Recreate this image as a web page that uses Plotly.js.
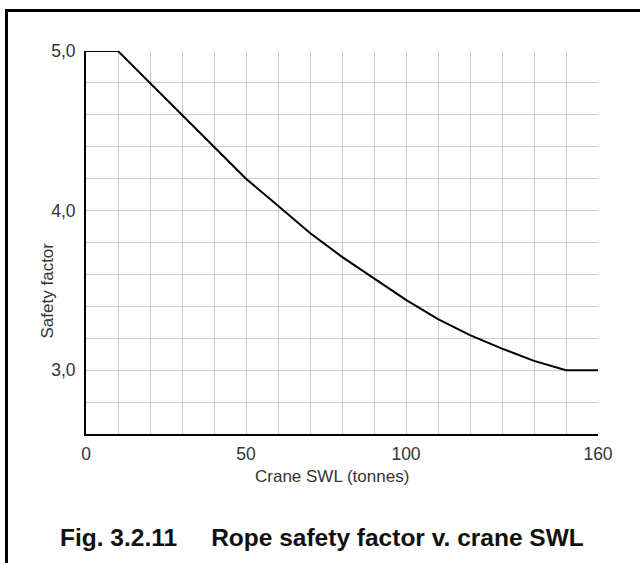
<!DOCTYPE html>
<html>
<head>
<meta charset="utf-8">
<script src="https://cdn.plot.ly/plotly-3.0.1.min.js"></script>
<style>
  html, body { margin: 0; padding: 0; background: #fff; }
  #frame { position: absolute; left: 5px; top: 9px; width: 700px; height: 700px;
           border-top: 3px solid #000; border-left: 3px solid #000; }
  #chart { position: absolute; left: 0; top: 0; width: 640px; height: 563px; }
</style>
</head>
<body>
<div id="frame"></div>
<div id="chart"></div>
<script>
// Data
const craneSWL = [0, 10, 20, 30, 40, 50, 60, 70, 80, 90, 100, 110, 120, 130, 140, 150, 160];
const safetyFactor = [5.0, 5.0, 4.8, 4.6, 4.4, 4.2, 4.03, 3.86, 3.71, 3.575, 3.44, 3.32, 3.22, 3.135, 3.058, 3.0, 3.0];

const xTickVals = [0, 50, 100, 160];
const xTickText = ['0', '50', '100', '160'];
const yTickVals = [3, 4, 5];
const yTickText = ['3,0', '4,0', '5,0'];

const xTitle = 'Crane SWL (tonnes)';
const yTitle = 'Safety factor';
const caption = 'Fig. 3.2.11&nbsp;&nbsp;&nbsp;&nbsp;&nbsp;Rope safety factor v. crane SWL';

const FONT = 'Liberation Sans, Arial, Helvetica, sans-serif';
const GRID = '#cccccc';

const trace = {
  x: craneSWL,
  y: safetyFactor,
  type: 'scatter',
  mode: 'lines',
  line: { color: '#000', width: 2 },
  hoverinfo: 'skip',
  cliponaxis: false
};

const layout = {
  width: 640,
  height: 563,
  margin: { l: 86, r: 42, t: 51, b: 129 },
  paper_bgcolor: 'rgba(0,0,0,0)',
  plot_bgcolor: 'rgba(0,0,0,0)',
  showlegend: false,
  font: { family: FONT, color: '#333', size: 17 },
  xaxis: {
    range: [0, 160],
    tickmode: 'array',
    tickvals: xTickVals,
    ticktext: xTickText,
    ticks: 'outside', ticklen: 3, tickcolor: 'rgba(0,0,0,0)',
    showgrid: true, gridcolor: GRID, gridwidth: 1,
    minor: { tickmode: 'linear', tick0: 0, dtick: 10, showgrid: true, gridcolor: GRID, gridwidth: 1 },
    showline: true, linecolor: '#000', linewidth: 2,
    zeroline: false,
    tickfont: { family: FONT, size: 17.5, color: '#333' },
    fixedrange: true
  },
  yaxis: {
    range: [2.6, 5.0],
    tickmode: 'array',
    tickvals: yTickVals,
    ticktext: yTickText,
    ticks: 'outside', ticklen: 5, tickcolor: 'rgba(0,0,0,0)',
    showgrid: true, gridcolor: GRID, gridwidth: 1,
    minor: { tickmode: 'linear', tick0: 0, dtick: 0.2, showgrid: true, gridcolor: GRID, gridwidth: 1 },
    showline: true, linecolor: '#000', linewidth: 2,
    zeroline: false,
    tickfont: { family: FONT, size: 17.5, color: '#333' },
    fixedrange: true
  },
  annotations: [
    {
      text: xTitle, xref: 'paper', yref: 'paper', x: 0.48, y: -0.112,
      xanchor: 'center', yanchor: 'middle', showarrow: false,
      font: { family: FONT, size: 17, color: '#333' }
    },
    {
      text: yTitle, xref: 'paper', yref: 'y', x: -0.076, y: 3.5,
      xanchor: 'center', yanchor: 'middle', textangle: -90, showarrow: false,
      font: { family: FONT, size: 17, color: '#333' }
    },
    {
      text: '<b>' + caption + '</b>', xref: 'paper', yref: 'paper', x: 0.461, y: -0.269,
      xanchor: 'center', yanchor: 'middle', showarrow: false,
      font: { family: FONT, size: 24.5, color: '#111' }
    }
  ]
};

Plotly.newPlot('chart', [trace], layout, { displayModeBar: false, staticPlot: true });
</script>
</body>
</html>
